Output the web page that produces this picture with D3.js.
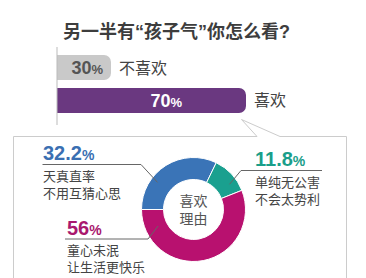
<!DOCTYPE html>
<html>
<head>
<meta charset="utf-8">
<script src="https://cdn.jsdelivr.net/npm/d3@7"></script>
<style>
  body { margin: 0; background: #fff; }
  svg { display: block; font-family: 'Liberation Sans', 'Noto Sans CJK SC', sans-serif; }
</style>
</head>
<body>
<div id="chart"></div>
<script>
const title = '另一半有“孩子气”你怎么看?';
const answers = ['不喜欢', '喜欢'];
const answerValues = [30, 70];
const reasons = ['天真直率|不用互猜心思', '单纯无公害|不会太势利', '童心未泯|让生活更快乐'];
const reasonValues = [32.2, 11.8, 56];
const centerLabel = ['喜欢', '理由'];

const W = 366, H = 278;
const svg = d3.select('#chart').append('svg').attr('width', W).attr('height', H);

svg.append('text')
  .attr('x', 63)
  .attr('y', 38)
  .style('font-size', '18px')
  .style('font-weight', 'bold')
  .style('fill', '#3d3d3d')
  .text(title);

// top bars
const x = d3.scaleLinear().domain([14, 70]).range([57, 246]);
const y = d3.scaleBand().domain(answers).range([55, 113]).paddingInner(0.24);
const barColors = ['#c9c9c9', '#6a3880'];
const valueColors = ['#555', '#fff'];
const valueOffsets = [8, 64]; // distance of value label end from bar end

const roundRight = (x0, x1, y0, h, r) =>
  `M${x0},${y0}H${x1 - r}A${r},${r} 0 0 1 ${x1},${y0 + r}V${y0 + h - r}A${r},${r} 0 0 1 ${x1 - r},${y0 + h}H${x0}Z`;

answers.forEach((a, i) => {
  const x1 = x(answerValues[i]);
  svg.append('path')
    .attr('d', roundRight(x.range()[0], x1, y(a), y.bandwidth(), 7))
    .attr('fill', barColors[i]);

  const t = svg.append('text')
    .attr('x', x1 - valueOffsets[i])
    .attr('y', y(a) + y.bandwidth() / 2 + 6.5)
    .attr('text-anchor', 'end')
    .style('font-weight', 'bold')
    .style('fill', valueColors[i]);
  t.append('tspan').style('font-size', '18px').text(answerValues[i]);
  t.append('tspan').style('font-size', '13px').text('%');

  svg.append('text')
    .attr('x', x1 + 8)
    .attr('y', y(a) + y.bandwidth() / 2 + 6)
    .style('font-size', '16px')
    .style('fill', '#444')
    .text(a);
});

svg.append('line')
  .attr('x1', 57).attr('x2', 57)
  .attr('y1', 47).attr('y2', 125)
  .style('stroke', '#bbb');

// callout box
svg.append('path')
  .attr('d', 'M13.5,290V136.5H257L241.5,119.5L280,136.5H346.5V290')
  .attr('fill', 'none')
  .style('stroke', '#ccc');

// donut
const cx = 193.5, cy = 209.5;
const pieColors = ['#3a74b7', '#1aa08f', '#b8116f'];
const textColors = ['#3a6fb2', '#1a9e8a', '#a9186e'];
const pie = d3.pie().sort(null).startAngle(-Math.PI / 2).endAngle(Math.PI * 1.5);
const arc = d3.arc().innerRadius(30).outerRadius(52);
const arcs = pie(reasonValues);

const g = svg.append('g').attr('transform', `translate(${cx},${cy})`);
g.selectAll('path')
  .data(arcs)
  .enter()
  .append('path')
  .attr('d', arc)
  .attr('fill', (d, i) => pieColors[i])
  .style('stroke', '#fff')
  .style('stroke-width', 1);

centerLabel.forEach((t, i) => {
  g.append('text')
    .attr('y', -4 + i * 18)
    .attr('text-anchor', 'middle')
    .style('font-size', '14px')
    .style('fill', '#555')
    .text(t);
});

// leader lines + labels
const labelLayout = [
  { tx: 43, lineY: 164.5, x0: 42.5, bend: 141, angle: -53, r: 45 },
  { tx: 255, lineY: 170.5, x0: 322, bend: 241, angle: 55, r: 44 },
  { tx: 67, lineY: 239, x0: 65, bend: 148, angle: -115, r: 39 },
];

labelLayout.forEach((l, i) => {
  const a = (l.angle * Math.PI) / 180;
  const ex = cx + l.r * Math.sin(a), ey = cy - l.r * Math.cos(a);
  svg.append('path')
    .attr('d', `M${l.x0},${l.lineY}H${l.bend}L${ex},${ey}`)
    .attr('fill', 'none')
    .style('stroke', '#666')
    .style('stroke-width', 1);

  const p = svg.append('text')
    .attr('x', l.tx)
    .attr('y', l.lineY - 4.5)
    .style('font-weight', 'bold')
    .style('fill', textColors[i]);
  p.append('tspan').style('font-size', '20px').text(reasonValues[i]);
  p.append('tspan').style('font-size', '14px').text('%');

  reasons[i].split('|').forEach((line, j) => {
    svg.append('text')
      .attr('x', l.tx)
      .attr('y', l.lineY + 16 + j * 17)
      .style('font-size', '13px')
      .style('fill', '#444')
      .text(line);
  });
});
</script>
</body>
</html>
